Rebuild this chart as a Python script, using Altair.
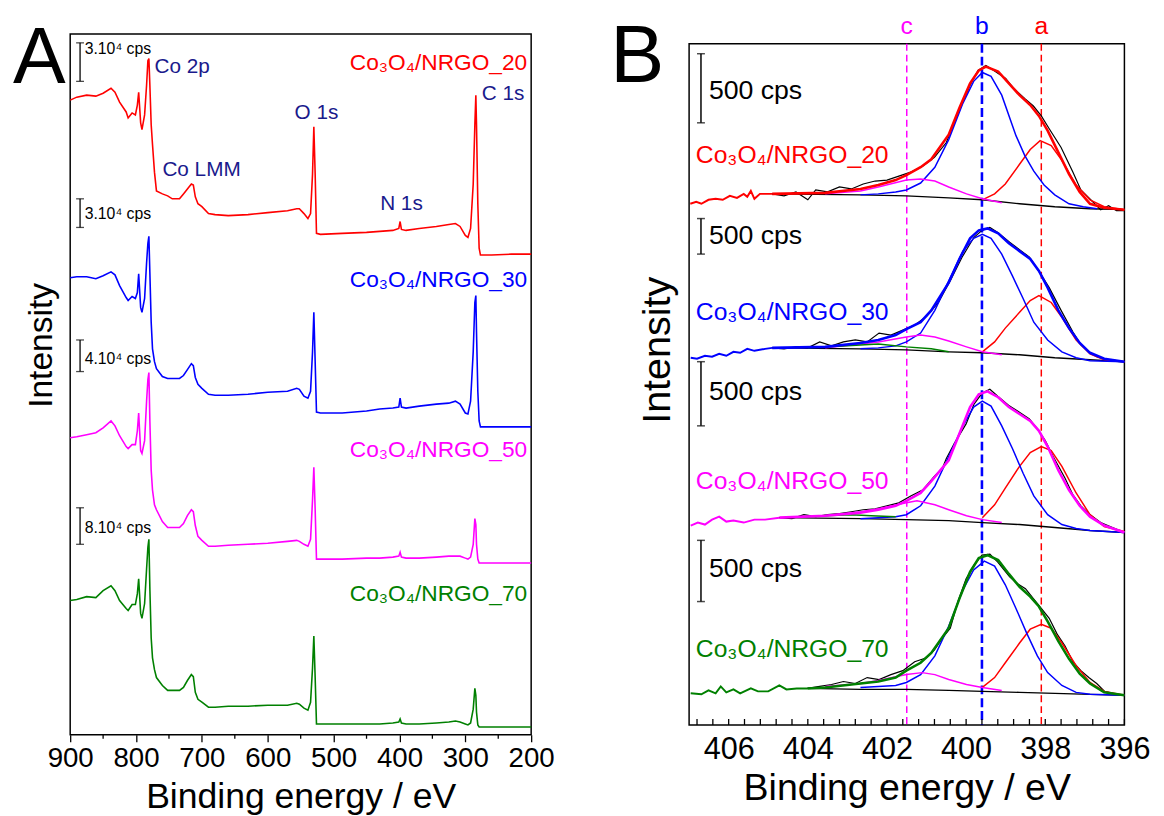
import altair as alt
import pandas as pd

FONT = "Liberation Sans, Arial, Helvetica, sans-serif"

COLOR_KEYS = ["black", "red", "blue", "magenta", "green", "navy"]
COLOR_HEX = ["#000000", "#ff0000", "#0000ff", "#ff00ff", "#008000", "#1a1a8c"]
CSCALE = alt.Scale(domain=COLOR_KEYS, range=COLOR_HEX)

SAMPLES = ["Co₃O₄/NRGO_20", "Co₃O₄/NRGO_30", "Co₃O₄/NRGO_50", "Co₃O₄/NRGO_70"]
SAMPLE_COLORS = ["red", "blue", "magenta", "green"]

# ---------------- Panel A : survey spectra ----------------
A_EV = [900, 890, 875, 861, 850, 838, 832, 825, 815, 812,
        806, 801, 798, 796, 793, 791, 787, 784, 782, 780.5,
        779, 777, 775, 772, 769, 760, 752, 745, 734, 728,
        722, 716, 713, 710, 706, 700, 690, 680, 660, 630,
        600, 570, 556, 552, 545, 539, 535, 532, 530, 528,
        526, 520, 487, 450, 430, 410, 401, 399, 397, 390,
        370, 344, 325, 315, 308, 300, 296, 292, 288, 285.5,
        284, 283, 281, 279, 277, 260, 230, 200]
A_RAW_20 = [157, 160, 162, 161, 164, 169, 165, 155, 145, 139,
            144, 142, 152, 165, 134, 127, 142, 172, 197, 199,
            172, 132, 112, 84, 65, 62, 60, 57, 57, 62,
            67, 72, 71, 59, 52, 49, 42, 41, 40, 41,
            43, 45, 47, 47, 42, 37, 42, 82, 130, 82,
            22, 21, 22, 23, 24, 25, 27, 34, 26, 25,
            27, 29, 31, 32, 29, 20, 18, 27, 72, 132,
            162, 132, 52, 7, 0, 0, 1, 1]
A_RAW_30 = [151, 152, 152, 150, 153, 157, 154, 143, 131, 128,
            132, 130, 136, 155, 121, 116, 130, 166, 186, 193,
            156, 106, 79, 66, 59, 51, 49, 49, 49, 52,
            58, 64, 62, 50, 43, 39, 33, 32, 32, 33,
            35, 36, 39, 38, 31, 29, 36, 76, 116, 66,
            15, 14, 14, 16, 18, 19, 20, 29, 20, 19,
            21, 23, 24, 26, 23, 14, 13, 26, 76, 126,
            133, 96, 36, 6, 0, 0, 0, 0]
A_RAW_50 = [127, 128, 130, 132, 137, 144, 139, 129, 118, 116,
            120, 120, 134, 152, 114, 111, 124, 164, 186, 193,
            144, 94, 74, 59, 54, 42, 36, 36, 36, 40,
            48, 54, 52, 38, 27, 23, 17, 17, 18, 19,
            20, 22, 23, 22, 19, 17, 24, 64, 97, 54,
            4, 4, 4, 5, 5, 6, 7, 11, 6, 5,
            5, 6, 7, 7, 7, 5, 4, 6, 19, 45,
            39, 19, 4, 0, 0, 0, 0, 0]
A_RAW_70 = [128, 129, 132, 131, 138, 143, 138, 128, 120, 118,
            124, 124, 135, 150, 115, 110, 125, 160, 182, 190,
            140, 90, 70, 58, 50, 42, 37, 37, 37, 40,
            47, 53, 51, 35, 28, 25, 20, 20, 21, 21,
            22, 22, 24, 23, 19, 17, 25, 60, 92, 50,
            3, 3, 3, 3, 3, 4, 5, 8, 4, 3,
            3, 4, 5, 6, 5, 3, 2, 4, 18, 39,
            32, 15, 2, 0, 0, 0, 0, 0]
A_OFFSET = [486, 312, 174, 8]
A_LABEL_EV = 206
A_LABEL_I = [681, 461, 288, 143]

A_PEAK_TEXT = ["Co 2p", "Co LMM", "C 1s", "O 1s", "N 1s"]
A_PEAK_EV = [772, 760, 275, 526, 397]
A_PEAK_I = [676, 572, 649, 630, 538]
A_PEAK_LEFT = [True, True, True, False, False]

A_BAR_TEXT = ["3.10⁴ cps", "3.10⁴ cps", "4.10⁴ cps", "8.10⁴ cps"]
A_BAR_TOP = [701, 543, 400, 230]
A_BAR_BOTTOM = [662, 514, 368, 193]
A_BAR_TEXT_I = [695, 528, 381, 209]
A_BAR_EV = 885
A_BAR_TEXT_EV = 878

A_TICKS_MAJOR = [900, 800, 700, 600, 500, 400, 300, 200]
A_TICKS_MINOR = [850, 750, 650, 550, 450, 350, 250]

# ---------------- Panel B : N 1s spectra ----------------
B1_NOISE_EV = [406.97, 406.82, 406.69, 406.51, 406.33, 406.15, 405.97, 405.79, 405.62, 405.53, 405.44, 405.35, 405.21, 405.08, 404.90]
B1_NOISE_I = [528, 530, 528, 532, 533, 532, 536, 534, 538, 535, 541, 533, 538, 538, 538]
B1_RAW_EV = [404.9, 404.6, 404.3, 404.0, 403.8, 403.5, 403.2, 402.9, 402.6, 402.3, 402.0, 401.7, 401.4, 401.1, 400.8, 400.5, 400.2, 399.9, 399.7, 399.5, 399.3, 399.0, 398.8, 398.5, 398.3, 398.1, 397.9, 397.6, 397.3, 397.1, 396.8, 396.6, 396.4, 396.2, 396.0]
B1_RAW_I = [538, 536, 540, 532, 542, 540, 545, 543, 548, 551, 552, 556, 560, 566, 575, 590, 620, 648, 663, 668, 663, 655, 645, 634, 627, 617, 604, 585, 560, 542, 530, 522, 526, 521, 521]
B1_ENV_EV = [404.90, 403.56, 402.67, 402.22, 401.78, 401.51, 401.15, 400.88, 400.44, 400.17, 399.90, 399.68, 399.50, 399.19, 398.92, 398.65, 398.38, 398.16, 397.94, 397.67, 397.40, 397.13, 396.87, 396.51, 396.00]
B1_ENV_I = [538, 539, 543, 547, 552, 557, 565, 573, 598, 625, 650, 663, 667, 662, 650, 638, 628, 617, 602, 580, 558, 540, 528, 524, 522]
B1_B_EV = [402.67, 402.22, 401.78, 401.51, 401.15, 400.79, 400.44, 400.08, 399.81, 399.59, 399.37, 399.10, 398.74, 398.52, 398.29, 398.03, 397.76, 397.40, 397.04, 396.69]
B1_B_I = [537, 538, 540, 542, 549, 565, 593, 630, 652, 661, 657, 638, 597, 577, 561, 547, 537, 528, 525, 523]
B1_A_EV = [399.59, 399.28, 399.01, 398.65, 398.38, 398.13, 397.85, 397.58, 397.22, 396.87, 396.51, 396.00]
B1_A_I = [532, 538, 548, 568, 583, 592, 587, 572, 547, 532, 525, 522]
B1_C_EV = [403.56, 402.67, 402.22, 401.51, 401.15, 400.79, 400.44, 399.99, 399.59, 399.10]
B1_C_I = [538, 541, 545, 552, 553, 551, 545, 538, 533, 529]
B1_BG_EV = [404.90, 402.67, 401.51, 400.44, 399.59, 398.65, 397.76, 396.87, 396.00]
B1_BG_I = [538, 537, 536, 534, 532, 528, 525, 523, 522]

B2_NOISE_EV = [406.96, 406.80, 406.60, 406.42, 406.24, 406.06, 405.88, 405.71, 405.53, 405.35, 405.08, 404.90]
B2_NOISE_I = [372, 371, 374, 373, 376, 374, 378, 377, 381, 379, 381, 382]
B2_RAW_EV = [404.9, 404.6, 404.3, 404.0, 403.7, 403.4, 403.1, 402.8, 402.5, 402.2, 401.9, 401.6, 401.3, 401.0, 400.7, 400.4, 400.1, 399.8, 399.6, 399.4, 399.2, 398.9, 398.6, 398.4, 398.2, 397.9, 397.6, 397.3, 397.1, 396.9, 396.7, 396.4, 396.2, 396.0]
B2_RAW_I = [382, 381, 383, 382, 388, 384, 388, 390, 388, 397, 395, 400, 405, 414, 428, 450, 474, 494, 501, 504, 499, 489, 480, 474, 462, 443, 420, 398, 385, 378, 373, 370, 369, 368]
B2_ENV_EV = [404.90, 403.56, 402.67, 402.22, 401.78, 401.51, 401.15, 400.88, 400.44, 400.17, 399.90, 399.68, 399.46, 399.19, 398.92, 398.65, 398.38, 398.16, 397.94, 397.67, 397.40, 397.13, 396.87, 396.51, 396.00]
B2_ENV_I = [382, 383, 387, 390, 395, 401, 408, 420, 448, 472, 493, 501, 503, 498, 488, 480, 472, 460, 443, 420, 402, 387, 377, 371, 368]
B2_B_EV = [402.67, 402.22, 401.78, 401.51, 401.15, 400.79, 400.44, 400.08, 399.81, 399.59, 399.37, 399.10, 398.83, 398.56, 398.29, 397.94, 397.58, 397.22, 396.87, 396.00]
B2_B_I = [381, 382, 384, 388, 397, 420, 450, 480, 493, 497, 493, 477, 455, 432, 408, 390, 378, 372, 369, 368]
B2_A_EV = [399.59, 399.28, 399.01, 398.65, 398.38, 398.16, 397.85, 397.58, 397.22, 396.87, 396.51, 396.00]
B2_A_I = [378, 388, 402, 418, 430, 435, 428, 413, 390, 376, 370, 368]
B2_C_EV = [403.56, 402.67, 402.22, 401.51, 401.15, 400.79, 400.44, 399.99, 399.59, 399.10]
B2_C_I = [382, 386, 388, 393, 395, 393, 389, 383, 378, 375]
B2_G_EV = [404.0, 403.12, 402.22, 401.51, 400.88, 400.44]
B2_G_I = [382, 384, 386, 383, 381, 378]
B2_BG_EV = [404.90, 402.67, 401.51, 400.44, 399.59, 398.65, 397.76, 396.87, 396.00]
B2_BG_I = [382, 381, 380, 378, 377, 375, 372, 370, 368]

B3_NOISE_EV = [406.96, 406.78, 406.60, 406.42, 406.24, 406.06, 405.88, 405.62, 405.35, 405.08, 404.72]
B3_NOISE_I = [202, 205, 203, 208, 211, 206, 207, 205, 208, 208, 210]
B3_RAW_EV = [404.72, 404.4, 404.1, 403.8, 403.5, 403.2, 402.9, 402.6, 402.3, 402.0, 401.7, 401.4, 401.1, 400.8, 400.6, 400.5, 400.3, 400.0, 399.8, 399.6, 399.4, 399.2, 398.9, 398.7, 398.4, 398.2, 398.0, 397.8, 397.5, 397.3, 397.1, 396.9, 396.6, 396.3, 396.0]
B3_RAW_I = [210, 209, 213, 211, 213, 214, 216, 218, 219, 222, 225, 232, 238, 252, 260, 270, 285, 305, 325, 336, 340, 333, 323, 318, 310, 300, 288, 272, 250, 233, 222, 214, 205, 200, 195]
B3_ENV_EV = [404.72, 403.56, 402.67, 402.22, 401.78, 401.51, 401.15, 400.88, 400.44, 400.17, 399.90, 399.68, 399.46, 399.19, 398.92, 398.65, 398.38, 398.16, 397.94, 397.67, 397.40, 397.13, 396.87, 396.51, 396.00]
B3_ENV_I = [210, 212, 215, 218, 222, 227, 235, 247, 268, 295, 322, 335, 338, 332, 322, 315, 308, 298, 282, 258, 238, 222, 211, 202, 195]
B3_B_EV = [402.67, 402.22, 401.78, 401.51, 401.15, 400.79, 400.44, 400.08, 399.81, 399.59, 399.37, 399.10, 398.83, 398.56, 398.29, 397.94, 397.58, 397.22, 396.87, 396.00]
B3_B_I = [209, 210, 211, 213, 222, 242, 272, 303, 322, 328, 323, 303, 280, 255, 232, 213, 203, 199, 197, 195]
B3_A_EV = [399.59, 399.28, 399.01, 398.65, 398.38, 398.10, 397.85, 397.58, 397.22, 396.87, 396.51, 396.00]
B3_A_I = [210, 223, 240, 262, 276, 282, 278, 262, 235, 213, 201, 196]
B3_C_EV = [403.56, 402.67, 402.22, 401.51, 401.24, 400.79, 400.44, 399.99, 399.59, 399.10]
B3_C_I = [212, 216, 219, 225, 227, 223, 218, 212, 208, 205]
B3_G_EV = [403.56, 402.9, 402.4, 401.78]
B3_G_I = [212, 213, 212, 211]
B3_BG_EV = [404.72, 402.67, 401.51, 400.44, 399.59, 398.65, 397.76, 396.87, 396.00]
B3_BG_I = [210, 209, 208, 207, 205, 203, 200, 197, 195]

B4_NOISE_EV = [406.96, 406.69, 406.51, 406.33, 406.20, 406.06, 405.88, 405.71, 405.44, 405.26, 405.00, 404.72, 404.54, 404.28, 404.01]
B4_NOISE_I = [32, 31, 35, 32, 39, 33, 36, 32, 37, 34, 34, 40, 36, 37, 37]
B4_RAW_EV = [404.01, 403.7, 403.4, 403.1, 402.8, 402.5, 402.2, 401.9, 401.6, 401.3, 401.0, 400.8, 400.6, 400.4, 400.2, 400.0, 399.8, 399.6, 399.4, 399.2, 398.9, 398.7, 398.5, 398.3, 398.1, 397.9, 397.7, 397.5, 397.3, 397.1, 396.9, 396.7, 396.5, 396.2, 396.0]
B4_RAW_I = [37, 39, 41, 44, 42, 48, 46, 51, 55, 64, 68, 76, 88, 98, 126, 148, 162, 172, 173, 165, 150, 143, 138, 128, 118, 108, 92, 80, 64, 55, 48, 42, 34, 31, 30]
B4_ENV_EV = [404.01, 403.56, 403.12, 402.67, 402.22, 401.78, 401.51, 401.15, 400.88, 400.44, 400.17, 399.90, 399.68, 399.46, 399.19, 398.92, 398.65, 398.38, 398.16, 397.94, 397.67, 397.40, 397.13, 396.87, 396.51, 396.00]
B4_ENV_I = [37, 38, 40, 42, 44, 48, 55, 63, 73, 98, 128, 155, 169, 172, 167, 153, 140, 130, 120, 105, 85, 67, 52, 42, 33, 30]
B4_B_EV = [402.67, 402.22, 401.78, 401.51, 401.15, 400.79, 400.44, 400.08, 399.81, 399.54, 399.28, 399.01, 398.74, 398.47, 398.20, 397.94, 397.58, 397.22, 396.87, 396.00]
B4_B_I = [38, 39, 40, 43, 51, 70, 100, 137, 157, 166, 161, 142, 118, 93, 70, 53, 40, 33, 31, 30]
B4_A_EV = [399.59, 399.28, 399.01, 398.65, 398.38, 398.10, 397.85, 397.58, 397.22, 396.87, 396.51, 396.00]
B4_A_I = [38, 48, 63, 83, 97, 102, 98, 83, 60, 43, 34, 30]
B4_C_EV = [403.56, 402.67, 402.22, 401.51, 401.11, 400.79, 400.44, 399.99, 399.59, 399.10]
B4_C_I = [39, 42, 45, 51, 53, 51, 46, 41, 38, 35]
B4_BG_EV = [404.01, 402.67, 401.51, 400.44, 399.59, 398.65, 397.76, 396.87, 396.00]
B4_BG_I = [37, 36, 36, 35, 34, 33, 32, 31, 30]

B_LABEL_EV = 406.83
B_LABEL_I = [577, 418, 247, 77]
B_BAR_TOP = [680, 513, 368, 187]
B_BAR_BOTTOM = [610, 477, 303, 125]
B_BAR_TEXT_I = [642, 495, 337, 158]
B_BAR_EV = 406.7
B_BAR_TEXT_EV = 406.5
B_PEAK_NAME = ["c", "b", "a"]
B_PEAK_EV = [401.5, 399.6, 398.1]
B_PEAK_COL = ["magenta", "blue", "red"]
B_TICK_LABELS = [406, 404, 402, 400, 398, 396]
B_TICKS = [396.0, 396.4, 396.8, 397.2, 397.6, 398.0, 398.4, 398.8, 399.2, 399.6,
           400.0, 400.4, 400.8, 401.2, 401.6, 402.0, 402.4, 402.8, 403.2, 403.6,
           404.0, 404.4, 404.8, 405.2, 405.6, 406.0, 406.4, 406.8]


def lines_df(specs):
    rows = []
    for key, col, ev, inten in specs:
        for e, i in zip(ev, inten):
            rows.append({"key": key, "col": col, "ev": e, "I": i})
    return pd.DataFrame(rows)


# ---------------- build panel A ----------------
A_XS = alt.Scale(domain=[200, 900], reverse=True, nice=False, zero=False)
A_YS = alt.Scale(domain=[0, 710], nice=False, zero=False)


def ax(field="ev"):
    return alt.X(f"{field}:Q", scale=A_XS,
                 axis=alt.Axis(values=A_TICKS_MAJOR, format="d", title="Binding energy / eV",
                               tickSize=7, tickWidth=1.3, labelPadding=3, labelFontSize=28,
                               titleFontSize=36, titlePadding=8, labelFlush=False,
                               labelOverlap=False))


def ay(field="I"):
    return alt.Y(f"{field}:Q", scale=A_YS,
                 axis=alt.Axis(title="Intensity", ticks=False, labels=False, tickSize=0,
                               titleFontSize=34, titlePadding=12, titleY=315))


a_specs = []
for name, col, raw, off in zip(SAMPLES, SAMPLE_COLORS, [A_RAW_20, A_RAW_30, A_RAW_50, A_RAW_70], A_OFFSET):
    a_specs.append((name, col, A_EV, [r + off for r in raw]))
a_lines = lines_df(a_specs)

colr = alt.Color("col:N", scale=CSCALE, legend=None)

A_layers = [
    alt.Chart(a_lines).mark_line(strokeWidth=1.6).encode(x=ax(), y=ay(), color=colr, detail="key:N"),
    alt.Chart(pd.DataFrame({"ev": A_TICKS_MINOR})).mark_rule(color="black", strokeWidth=1.3).encode(
        x=ax(), y=alt.value(710), y2=alt.value(714)),
]
a_bars = pd.DataFrame({"ev": [A_BAR_EV] * 4, "top": A_BAR_TOP, "bottom": A_BAR_BOTTOM})
a_caps = pd.DataFrame({"ev": [A_BAR_EV] * 8, "I": A_BAR_TOP + A_BAR_BOTTOM})
a_bar_txt = pd.DataFrame({"ev": [A_BAR_TEXT_EV] * 4, "I": A_BAR_TEXT_I, "t": A_BAR_TEXT})
A_layers += [
    alt.Chart(a_bars).mark_rule(color="black", strokeWidth=1.3).encode(x=ax(), y=ay("top"), y2="bottom:Q"),
    alt.Chart(a_caps).mark_tick(orient="horizontal", size=8, thickness=1.3, color="black").encode(x=ax(), y=ay()),
    alt.Chart(a_bar_txt).mark_text(align="left", baseline="middle", fontSize=16, color="black").encode(
        x=ax(), y=ay(), text="t:N"),
]
peaks = pd.DataFrame({"ev": A_PEAK_EV, "I": A_PEAK_I, "t": A_PEAK_TEXT, "left": A_PEAK_LEFT})
A_layers += [
    alt.Chart(peaks[peaks.left]).mark_text(align="left", baseline="middle", fontSize=21, color="#1a1a8c").encode(
        x=ax(), y=ay(), text="t:N"),
    alt.Chart(peaks[~peaks.left]).mark_text(align="center", baseline="middle", fontSize=21, color="#1a1a8c").encode(
        x=ax(), y=ay(), text="t:N"),
]
a_lab = pd.DataFrame({"ev": [A_LABEL_EV] * 4, "I": A_LABEL_I, "t": SAMPLES, "col": SAMPLE_COLORS})
A_layers += [
    alt.Chart(a_lab).mark_text(align="right", baseline="middle", fontSize=23).encode(
        x=ax(), y=ay(), text="t:N", color=colr),
    alt.Chart(pd.DataFrame({"t": ["A"]})).mark_text(align="left", baseline="alphabetic", fontSize=80,
                                                    color="black").encode(
        x=alt.value(-58), y=alt.value(50), text="t:N"),
]
panelA = alt.layer(*A_layers).properties(width=467, height=710)

# ---------------- build panel B ----------------
B_XS = alt.Scale(domain=[396, 407], reverse=True, nice=False, zero=False)
B_YS = alt.Scale(domain=[0, 690], nice=False, zero=False)


def bx(field="ev"):
    return alt.X(f"{field}:Q", scale=B_XS,
                 axis=alt.Axis(values=B_TICK_LABELS, format="d", title="Binding energy / eV",
                               ticks=False, tickSize=0, labelPadding=10, labelFontSize=31,
                               titleFontSize=38, titlePadding=6, labelFlush=False,
                               labelOverlap=False))


def by(field="I"):
    return alt.Y(f"{field}:Q", scale=B_YS,
                 axis=alt.Axis(title="Intensity", ticks=False, labels=False, tickSize=0,
                               titleFontSize=40, titlePadding=12, titleY=310))


raw_df = lines_df([("r20", "black", B1_RAW_EV, B1_RAW_I), ("r30", "black", B2_RAW_EV, B2_RAW_I),
                   ("r50", "black", B3_RAW_EV, B3_RAW_I), ("r70", "black", B4_RAW_EV, B4_RAW_I)])
bg_df = lines_df([("g20", "black", B1_BG_EV, B1_BG_I), ("g30", "black", B2_BG_EV, B2_BG_I),
                  ("g50", "black", B3_BG_EV, B3_BG_I), ("g70", "black", B4_BG_EV, B4_BG_I)])
comp_df = lines_df([
    ("a20", "red", B1_A_EV, B1_A_I), ("b20", "blue", B1_B_EV, B1_B_I), ("c20", "magenta", B1_C_EV, B1_C_I),
    ("a30", "red", B2_A_EV, B2_A_I), ("b30", "blue", B2_B_EV, B2_B_I), ("c30", "magenta", B2_C_EV, B2_C_I),
    ("d30", "green", B2_G_EV, B2_G_I),
    ("a50", "red", B3_A_EV, B3_A_I), ("b50", "blue", B3_B_EV, B3_B_I), ("c50", "magenta", B3_C_EV, B3_C_I),
    ("d50", "green", B3_G_EV, B3_G_I),
    ("a70", "red", B4_A_EV, B4_A_I), ("b70", "blue", B4_B_EV, B4_B_I), ("c70", "magenta", B4_C_EV, B4_C_I),
])
noise_df = lines_df([("n20", "red", B1_NOISE_EV, B1_NOISE_I), ("n30", "blue", B2_NOISE_EV, B2_NOISE_I),
                     ("n50", "magenta", B3_NOISE_EV, B3_NOISE_I), ("n70", "green", B4_NOISE_EV, B4_NOISE_I)])
env_df = lines_df([("e20", "red", B1_ENV_EV, B1_ENV_I), ("e30", "blue", B2_ENV_EV, B2_ENV_I),
                   ("e50", "magenta", B3_ENV_EV, B3_ENV_I), ("e70", "green", B4_ENV_EV, B4_ENV_I)])

peak_df = pd.DataFrame({"ev": B_PEAK_EV, "t": B_PEAK_NAME, "col": B_PEAK_COL})

B_layers = [
    alt.Chart(peak_df[peak_df.t != "b"]).mark_rule(strokeWidth=1.5, strokeDash=[7, 4]).encode(x=bx(), color=colr),
    alt.Chart(peak_df[peak_df.t == "b"]).mark_rule(strokeWidth=2.6, strokeDash=[9, 4]).encode(x=bx(), color=colr),
    alt.Chart(raw_df).mark_line(strokeWidth=1.2).encode(x=bx(), y=by(), color=colr, detail="key:N"),
    alt.Chart(bg_df).mark_line(strokeWidth=1.4).encode(x=bx(), y=by(), color=colr, detail="key:N"),
    alt.Chart(comp_df).mark_line(strokeWidth=1.5).encode(x=bx(), y=by(), color=colr, detail="key:N"),
    alt.Chart(noise_df).mark_line(strokeWidth=2.0).encode(x=bx(), y=by(), color=colr, detail="key:N"),
    alt.Chart(env_df).mark_line(strokeWidth=2.6).encode(x=bx(), y=by(), color=colr, detail="key:N"),
    alt.Chart(pd.DataFrame({"ev": B_TICKS})).mark_rule(color="black", strokeWidth=1.3).encode(
        x=bx(), y=alt.value(690), y2=alt.value(684)),
]
b_bars = pd.DataFrame({"ev": [B_BAR_EV] * 4, "top": B_BAR_TOP, "bottom": B_BAR_BOTTOM})
b_caps = pd.DataFrame({"ev": [B_BAR_EV] * 8, "I": B_BAR_TOP + B_BAR_BOTTOM})
b_bar_txt = pd.DataFrame({"ev": [B_BAR_TEXT_EV] * 4, "I": B_BAR_TEXT_I, "t": ["500 cps"] * 4})
b_lab = pd.DataFrame({"ev": [B_LABEL_EV] * 4, "I": B_LABEL_I, "t": SAMPLES, "col": SAMPLE_COLORS})
B_layers += [
    alt.Chart(b_bars).mark_rule(color="black", strokeWidth=1.5).encode(x=bx(), y=by("top"), y2="bottom:Q"),
    alt.Chart(b_caps).mark_tick(orient="horizontal", size=8, thickness=1.5, color="black").encode(x=bx(), y=by()),
    alt.Chart(b_bar_txt).mark_text(align="left", baseline="middle", fontSize=27, color="black").encode(
        x=bx(), y=by(), text="t:N"),
    alt.Chart(b_lab).mark_text(align="left", baseline="middle", fontSize=25).encode(
        x=bx(), y=by(), text="t:N", color=colr),
    alt.Chart(peak_df).mark_text(align="center", baseline="alphabetic", fontSize=25).encode(
        x=bx(), y=alt.value(-10), text="t:N", color=colr),
    alt.Chart(pd.DataFrame({"t": ["B"]})).mark_text(align="left", baseline="alphabetic", fontSize=82,
                                                    color="black").encode(
        x=alt.value(-80), y=alt.value(39), text="t:N"),
]
panelB = alt.layer(*B_layers).properties(width=441, height=690)

chart = alt.hconcat(
    panelA, panelB, spacing=160, bounds="flush", center=True,
    padding={"left": 4, "top": 0, "right": 5, "bottom": 0},
).configure_view(
    stroke="black", strokeWidth=1.5
).configure_axis(
    labelFont=FONT, titleFont=FONT, labelColor="black", titleColor="black",
    titleFontWeight="normal", grid=False, domain=False, tickColor="black"
).configure_text(font=FONT)

chart.save("out.html", embed_options={"renderer": "svg", "actions": False})
